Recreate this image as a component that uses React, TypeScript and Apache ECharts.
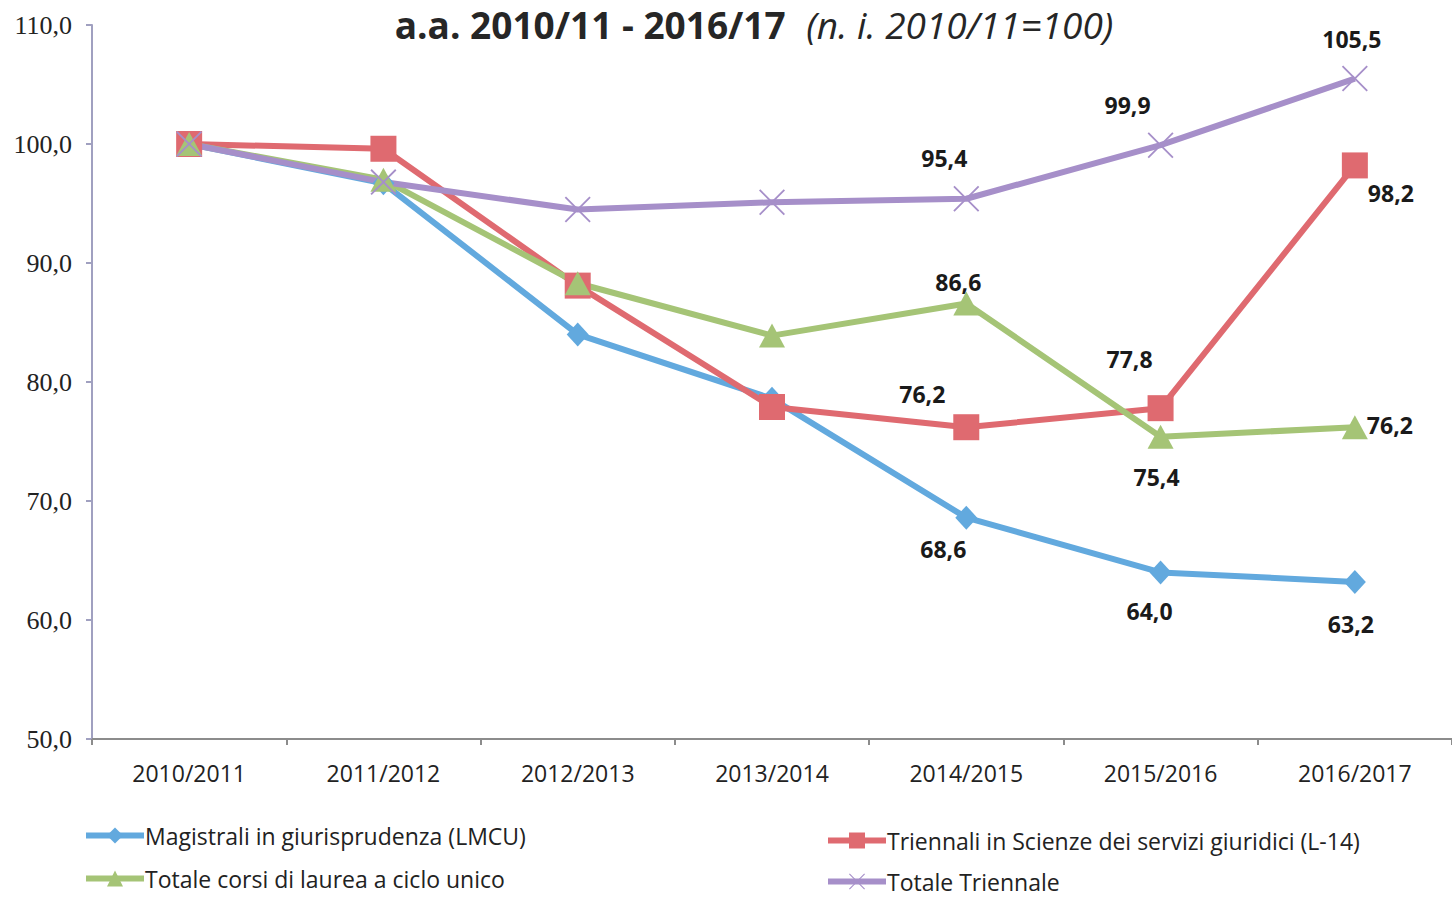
import React, { useEffect, useRef } from "react";
import * as echarts from "echarts";

const categories = ["2010/2011", "2011/2012", "2012/2013", "2013/2014", "2014/2015", "2015/2016", "2016/2017"];
const seriesNames = [
  "Magistrali in giurisprudenza (LMCU)",
  "Triennali in Scienze dei servizi giuridici (L-14)",
  "Totale corsi di laurea a ciclo unico",
  "Totale Triennale",
];
const magistrali = [100, 96.7, 84.0, 78.6, 68.6, 64.0, 63.2];
const triennali = [100, 99.6, 88.1, 77.9, 76.2, 77.8, 98.2];
const cicloUnico = [100, 97.0, 88.3, 83.9, 86.6, 75.4, 76.2];
const totTriennale = [100, 96.8, 94.5, 95.1, 95.4, 99.9, 105.5];
const yTicks = { min: 50, max: 110, interval: 10 };

// label offsets (index -> [dx, dy]) for points that show a value
const labelsMag: Record<number, [number, number]> = { 4: [-23, 31], 5: [-11, 39], 6: [-4, 42] };
const labelsTri: Record<number, [number, number]> = { 4: [-44, -33], 5: [-31, -49], 6: [36, 28] };
const labelsCic: Record<number, [number, number]> = { 4: [-8, -21], 5: [-4, 40], 6: [35, -2] };
const labelsTot: Record<number, [number, number]> = { 4: [-22, -41], 5: [-33, -40], 6: [-3, -40] };

const fmt = (v: number) => v.toFixed(1).replace(".", ",");

const X_PATH =
  "path://M0,1 L1,0 L10,9 L19,0 L20,1 L11,10 L20,19 L19,20 L10,11 L1,20 L0,19 L9,10 Z";

export default function App() {
  const ref = useRef<HTMLDivElement>(null);
  useEffect(() => {
    if (!ref.current) return;
    const chart = echarts.init(ref.current, undefined, { renderer: "svg" });
    const mk = (
      name: string,
      values: number[],
      color: string,
      symbol: string,
      symbolSize: number | number[],
      labels: Record<number, [number, number]>
    ) => ({
      name,
      type: "line",
      data: values.map((v, i) => ({
        value: v,
        label: labels[i]
          ? {
              show: true,
              position: "inside",
              offset: labels[i],
              formatter: () => fmt(v),
              fontFamily: "Open Sans",
              fontWeight: "bold",
              fontSize: 23,
              color: "#1a1a1a",
            }
          : { show: false },
      })),
      symbol,
      symbolSize,
      showAllSymbol: true,
      lineStyle: { color, width: 6 },
      itemStyle: { color },
      emphasis: { disabled: true },
    });
    const legendText = { fontFamily: "Open Sans", fontSize: 23, color: "#222", padding: [0, 0, 0, -4] };
    const leg = (name: string, left: number, cy: number) => ({
      data: [name],
      left,
      top: cy - 13,
      padding: 0,
      itemWidth: 58,
      itemHeight: 20,
      lineStyle: { width: 6 },
      textStyle: legendText,
    });
    chart.setOption({
      animation: false,
      backgroundColor: "#ffffff",
      title: {
        left: 749,
        textAlign: "center",
        top: 1,
        text: "{b|a.a. 2010/11 - 2016/17}{s|  }{i|(n. i. 2010/11=100)}",
        textStyle: {
          rich: {
            b: { fontFamily: "Open Sans", fontWeight: "bold", fontSize: 37, color: "#262626" },
            s: { fontSize: 37 },
            i: { fontFamily: "Open Sans", fontStyle: "italic", fontWeight: "normal", fontSize: 37, color: "#262626" },
          },
        },
      },
      grid: { left: 92, right: 0, top: 25, bottom: 160 },
      xAxis: {
        type: "category",
        data: categories,
        boundaryGap: true,
        axisLine: { lineStyle: { color: "#8c8c8c", width: 2 } },
        axisTick: { show: true, length: 6, lineStyle: { color: "#8c8c8c", width: 2 } },
        axisLabel: { fontFamily: "Open Sans", fontSize: 23, color: "#222", margin: 22 },
      },
      yAxis: {
        type: "value",
        min: yTicks.min,
        max: yTicks.max,
        interval: yTicks.interval,
        splitLine: { show: false },
        axisLine: { show: true, lineStyle: { color: "#a0a0c0", width: 2 } },
        axisTick: { show: true, length: 6, lineStyle: { color: "#a0a0c0", width: 2 } },
        axisLabel: {
          formatter: (v: number) => fmt(v),
          fontFamily: "Liberation Serif",
          fontSize: 26,
          color: "#222",
          margin: 20,
        },
      },
      legend: [
        leg(seriesNames[0], 83, 837),
        leg(seriesNames[2], 83, 880),
        leg(seriesNames[1], 825, 842),
        leg(seriesNames[3], 825, 883),
      ],
      series: [
        mk(seriesNames[0], magistrali, "#62a9de", "diamond", [22, 24], labelsMag),
        mk(seriesNames[1], triennali, "#df6a70", "rect", 26, labelsTri),
        mk(seriesNames[2], cicloUnico, "#a5c476", "triangle", [26, 24], labelsCic),
        mk(seriesNames[3], totTriennale, "#a68fc9", X_PATH, 26, labelsTot),
      ],
    });
    return () => chart.dispose();
  }, []);
  return <div ref={ref} style={{ position: "fixed", left: 0, top: 0, width: 1452, height: 899 }} />;
}
